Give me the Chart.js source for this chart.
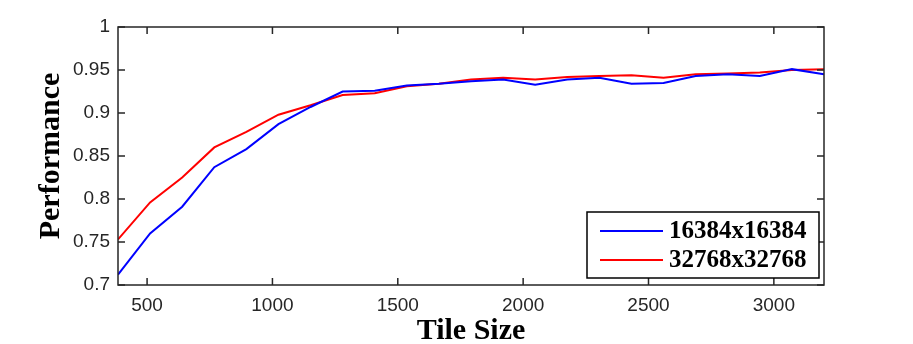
<!DOCTYPE html>
<html>
<head>
<meta charset="utf-8">
<script src="https://cdn.jsdelivr.net/npm/chart.js@4"></script>
<style>
  html, body { margin: 0; padding: 0; background: #fff; }
  #wrap { width: 913px; height: 344px; position: relative; }
</style>
</head>
<body>
<div id="wrap"><canvas id="perfChart"></canvas></div>
<script>
// Dane
var tileSizes = [384, 512, 640, 768, 896, 1024, 1152, 1280, 1408, 1536, 1664, 1792,
                 1920, 2048, 2176, 2304, 2432, 2560, 2688, 2816, 2944, 3072, 3200];
var perf16k = [0.712, 0.760, 0.791, 0.837, 0.858, 0.887, 0.907, 0.925, 0.926, 0.932, 0.934, 0.937,
               0.939, 0.933, 0.939, 0.941, 0.934, 0.935, 0.943, 0.945, 0.943, 0.951, 0.945];
var perf32k = [0.753, 0.796, 0.825, 0.860, 0.878, 0.898, 0.909, 0.921, 0.923, 0.931, 0.934, 0.939,
               0.941, 0.939, 0.942, 0.943, 0.944, 0.941, 0.945, 0.946, 0.947, 0.950, 0.951];
var seriesLabels = ['16384x16384', '32768x32768'];
var xTicks = [500, 1000, 1500, 2000, 2500, 3000];
var yTicks = [0.7, 0.75, 0.8, 0.85, 0.9, 0.95, 1];

var AXIS_COLOR = '#262626';
var TICK_LEN = 7;

function toPoints(ys) {
    return ys.map(function (y, i) { return { x: tileSizes[i], y: y }; });
}

// Ramka wokół wykresu + ticki do środka (styl MATLAB)
var boxPlugin = {
    id: 'boxTicks',
    afterDatasetsDraw: function (chart) {
        var ctx = chart.ctx, a = chart.chartArea;
        var xs = chart.scales.x, ys = chart.scales.y;
        ctx.save();
        ctx.strokeStyle = AXIS_COLOR;
        ctx.lineWidth = 1.5;
        ctx.strokeRect(a.left, a.top, a.right - a.left, a.bottom - a.top);
        ctx.beginPath();
        xTicks.forEach(function (v) {
            var px = xs.getPixelForValue(v);
            ctx.moveTo(px, a.bottom); ctx.lineTo(px, a.bottom - TICK_LEN);
            ctx.moveTo(px, a.top); ctx.lineTo(px, a.top + TICK_LEN);
        });
        yTicks.forEach(function (v) {
            var py = ys.getPixelForValue(v);
            ctx.moveTo(a.left, py); ctx.lineTo(a.left + TICK_LEN, py);
            ctx.moveTo(a.right, py); ctx.lineTo(a.right - TICK_LEN, py);
        });
        ctx.stroke();
        ctx.restore();
    }
};

// Legenda w prawym dolnym rogu obszaru wykresu
var legendPlugin = {
    id: 'insideLegend',
    afterDraw: function (chart) {
        var ctx = chart.ctx, a = chart.chartArea;
        var w = 232, h = 66;
        var x0 = a.right - 5 - w, y0 = a.bottom - 7 - h;
        ctx.save();
        ctx.fillStyle = '#fff';
        ctx.fillRect(x0, y0, w, h);
        ctx.strokeStyle = '#000';
        ctx.lineWidth = 1.5;
        ctx.strokeRect(x0, y0, w, h);
        ctx.font = 'bold 25px "Liberation Serif", "Times New Roman", serif';
        ctx.textBaseline = 'middle';
        ctx.textAlign = 'left';
        chart.data.datasets.forEach(function (ds, i) {
            var cy = y0 + 19 + i * 29;
            ctx.strokeStyle = ds.borderColor;
            ctx.lineWidth = 2;
            ctx.beginPath();
            ctx.moveTo(x0 + 13, cy); ctx.lineTo(x0 + 76, cy);
            ctx.stroke();
            ctx.fillStyle = '#000';
            ctx.fillText(ds.label, x0 + 82, cy + 1);
        });
        ctx.restore();
    }
};

var ctx = document.getElementById('perfChart').getContext('2d');
new Chart(ctx, {
    type: 'line',
    data: {
        datasets: [{
            label: seriesLabels[0],
            data: toPoints(perf16k),
            borderColor: '#0000ff',
            borderWidth: 2,
            pointRadius: 0,
            tension: 0,
            fill: false,
        }, {
            label: seriesLabels[1],
            data: toPoints(perf32k),
            borderColor: '#ff0000',
            borderWidth: 2,
            pointRadius: 0,
            tension: 0,
            fill: false,
        }],
    },
    plugins: [boxPlugin, legendPlugin],
    options: {
        responsive: true,
        maintainAspectRatio: false,
        animation: false,
        devicePixelRatio: 1,
        layout: { padding: { left: 0, right: 89, top: 27, bottom: 0 } },
        plugins: {
            legend: { display: false },
            tooltip: { enabled: false },
        },
        scales: {
            x: {
                type: 'linear',
                min: 384,
                max: 3200,
                grid: { display: false, drawTicks: false },
                border: { display: false },
                afterBuildTicks: function (scale) {
                    scale.ticks = xTicks.map(function (v) { return { value: v }; });
                },
                afterFit: function (scale) { scale.height = 59; },
                ticks: {
                    color: AXIS_COLOR,
                    padding: 9,
                    maxRotation: 0,
                    font: { family: '"Liberation Sans", Arial, sans-serif', size: 19 },
                    callback: function (v) { return String(v); },
                },
                title: {
                    display: true,
                    text: 'Tile Size',
                    color: '#000',
                    padding: { top: 0, bottom: 1 },
                    font: { family: '"Liberation Serif", "Times New Roman", serif', size: 30, weight: 'bold', lineHeight: 0.8 },
                },
            },
            y: {
                min: 0.7,
                max: 1,
                grid: { display: false, drawTicks: false },
                border: { display: false },
                afterBuildTicks: function (scale) {
                    scale.ticks = yTicks.map(function (v) { return { value: v }; });
                },
                afterFit: function (scale) { scale.width = 118; },
                ticks: {
                    color: AXIS_COLOR,
                    padding: 8,
                    font: { family: '"Liberation Sans", Arial, sans-serif', size: 19 },
                    callback: function (v) { return String(parseFloat(v.toFixed(2))); },
                },
                title: {
                    display: true,
                    text: 'Performance',
                    color: '#000',
                    padding: { top: 33, bottom: 0 },
                    font: { family: '"Liberation Serif", "Times New Roman", serif', size: 30, weight: 'bold', lineHeight: 1.2 },
                },
            },
        },
    },
});
</script>
</body>
</html>
